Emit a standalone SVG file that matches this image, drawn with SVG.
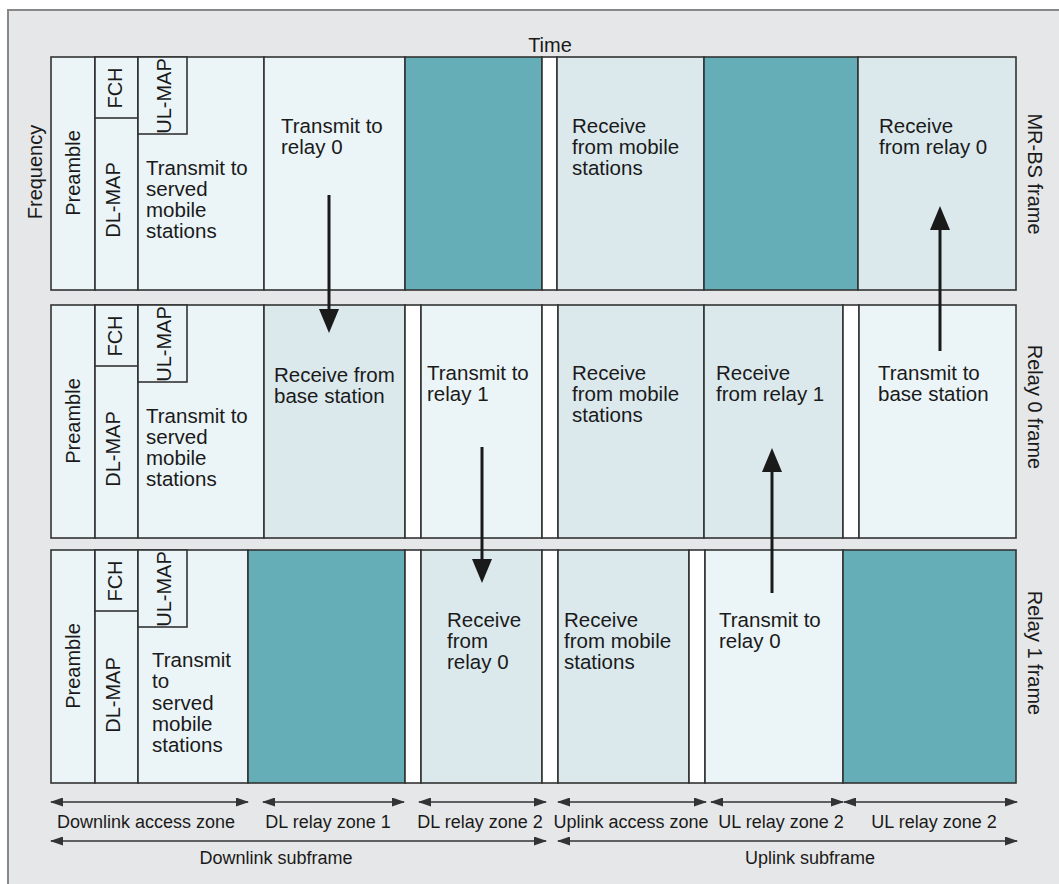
<svg xmlns="http://www.w3.org/2000/svg" width="1059" height="884" viewBox="0 0 1059 884">
<defs>
<style>
text{font-family:"Liberation Sans",Arial,sans-serif;fill:#1a1a1a}
.t{font-size:20.5px}
.r{font-size:20px;text-anchor:middle}
.z{font-size:18px;text-anchor:middle}
.c{stroke:#333;stroke-width:1.6}
.lt{fill:#ebf4f7}
.rx{fill:#dbe9ed}
.tl{fill:#65aeb7}
.wh{fill:#ffffff}
.big{stroke:#1a1a1a;stroke-width:3;fill:none}
.dim{stroke:#333;stroke-width:1.5;fill:none}
</style>
<marker id="ah" markerUnits="userSpaceOnUse" markerWidth="24" markerHeight="20" refX="2" refY="10" orient="auto"><path d="M0,0 L24,10 L0,20 z" fill="#1a1a1a"/></marker>
<marker id="sh" markerUnits="userSpaceOnUse" markerWidth="13" markerHeight="9" refX="12" refY="4.5" orient="auto-start-reverse"><path d="M0,0 L13,4.5 L0,9 z" fill="#333"/></marker>
</defs>
<rect x="0" y="0" width="1059" height="884" fill="#ffffff"/>
<rect x="8" y="10" width="1070" height="890" fill="#e6e7e8" stroke="#888" stroke-width="2"/>
<text class="r" x="550" y="52">Time</text>
<text class="r" transform="translate(42,172) rotate(-90)">Frequency</text>

<g id="row-mrbs">
<rect class="c lt" x="51" y="57" width="44" height="233"/>
<rect class="c lt" x="95" y="57" width="43" height="233"/>
<rect class="c lt" x="95" y="57" width="43" height="61"/>
<rect class="c lt" x="138" y="57" width="126" height="233"/>
<rect class="c lt" x="138" y="57" width="49" height="77"/>
<rect class="c lt" x="264" y="57" width="141" height="233"/>
<rect class="c tl" x="405" y="57" width="137" height="233"/>
<rect class="c wh" x="542" y="57" width="15" height="233"/>
<rect class="c rx" x="557" y="57" width="147" height="233"/>
<rect class="c tl" x="704" y="57" width="154" height="233"/>
<rect class="c rx" x="858" y="57" width="158" height="233"/>
<text class="r" transform="translate(80,173) rotate(-90)">Preamble</text>
<text class="r" transform="translate(122,88) rotate(-90)">FCH</text>
<text class="r" transform="translate(120,200) rotate(-90)">DL-MAP</text>
<text class="r" transform="translate(171,96) rotate(-90)">UL-MAP</text>
<text class="t" x="146" y="175">Transmit to</text>
<text class="t" x="146" y="196">served</text>
<text class="t" x="146" y="217">mobile</text>
<text class="t" x="146" y="238">stations</text>
<text class="t" x="281" y="133">Transmit to</text>
<text class="t" x="281" y="154">relay 0</text>
<text class="t" x="572" y="133">Receive</text>
<text class="t" x="572" y="154">from mobile</text>
<text class="t" x="572" y="175">stations</text>
<text class="t" x="879" y="133">Receive</text>
<text class="t" x="879" y="154">from relay 0</text>
<text class="r" transform="translate(1028,174) rotate(90)">MR-BS frame</text>
</g>

<g id="row-relay0">
<rect class="c lt" x="51" y="305" width="44" height="233"/>
<rect class="c lt" x="95" y="305" width="43" height="233"/>
<rect class="c lt" x="95" y="305" width="43" height="61"/>
<rect class="c lt" x="138" y="305" width="126" height="233"/>
<rect class="c lt" x="138" y="305" width="49" height="77"/>
<rect class="c rx" x="264" y="305" width="141" height="233"/>
<rect class="c wh" x="405" y="305" width="16" height="233"/>
<rect class="c lt" x="421" y="305" width="121" height="233"/>
<rect class="c wh" x="542" y="305" width="16" height="233"/>
<rect class="c rx" x="558" y="305" width="146" height="233"/>
<rect class="c rx" x="704" y="305" width="139" height="233"/>
<rect class="c wh" x="843" y="305" width="16" height="233"/>
<rect class="c lt" x="859" y="305" width="157" height="233"/>
<text class="r" transform="translate(80,421) rotate(-90)">Preamble</text>
<text class="r" transform="translate(122,336) rotate(-90)">FCH</text>
<text class="r" transform="translate(120,449) rotate(-90)">DL-MAP</text>
<text class="r" transform="translate(171,344) rotate(-90)">UL-MAP</text>
<text class="t" x="146" y="423">Transmit to</text>
<text class="t" x="146" y="444">served</text>
<text class="t" x="146" y="465">mobile</text>
<text class="t" x="146" y="486">stations</text>
<text class="t" x="274" y="382">Receive from</text>
<text class="t" x="274" y="403">base station</text>
<text class="t" x="427" y="380">Transmit to</text>
<text class="t" x="427" y="401">relay 1</text>
<text class="t" x="572" y="380">Receive</text>
<text class="t" x="572" y="401">from mobile</text>
<text class="t" x="572" y="422">stations</text>
<text class="t" x="716" y="380">Receive</text>
<text class="t" x="716" y="401">from relay 1</text>
<text class="t" x="878" y="380">Transmit to</text>
<text class="t" x="878" y="401">base station</text>
<text class="r" transform="translate(1028,407) rotate(90)">Relay 0 frame</text>
</g>

<g id="row-relay1">
<rect class="c lt" x="51" y="550" width="44" height="233"/>
<rect class="c lt" x="95" y="550" width="43" height="233"/>
<rect class="c lt" x="95" y="550" width="43" height="61"/>
<rect class="c lt" x="138" y="550" width="110" height="233"/>
<rect class="c lt" x="138" y="550" width="49" height="77"/>
<rect class="c tl" x="248" y="550" width="157" height="233"/>
<rect class="c wh" x="405" y="550" width="16" height="233"/>
<rect class="c rx" x="421" y="550" width="121" height="233"/>
<rect class="c wh" x="542" y="550" width="16" height="233"/>
<rect class="c rx" x="558" y="550" width="131" height="233"/>
<rect class="c wh" x="689" y="550" width="16" height="233"/>
<rect class="c lt" x="705" y="550" width="138" height="233"/>
<rect class="c tl" x="843" y="550" width="173" height="233"/>
<text class="r" transform="translate(80,666) rotate(-90)">Preamble</text>
<text class="r" transform="translate(122,581) rotate(-90)">FCH</text>
<text class="r" transform="translate(120,695) rotate(-90)">DL-MAP</text>
<text class="r" transform="translate(171,589) rotate(-90)">UL-MAP</text>
<text class="t" x="152" y="667">Transmit</text>
<text class="t" x="152" y="688">to</text>
<text class="t" x="152" y="710">served</text>
<text class="t" x="152" y="731">mobile</text>
<text class="t" x="152" y="752">stations</text>
<text class="t" x="447" y="627">Receive</text>
<text class="t" x="447" y="648">from</text>
<text class="t" x="447" y="669">relay 0</text>
<text class="t" x="564" y="627">Receive</text>
<text class="t" x="564" y="648">from mobile</text>
<text class="t" x="564" y="669">stations</text>
<text class="t" x="719" y="627">Transmit to</text>
<text class="t" x="719" y="648">relay 0</text>
<text class="r" transform="translate(1028,653) rotate(90)">Relay 1 frame</text>
</g>

<g id="connectors">
<line class="big" x1="329" y1="195" x2="329" y2="311" marker-end="url(#ah)"/>
<line class="big" x1="482" y1="447" x2="482" y2="561" marker-end="url(#ah)"/>
<line class="big" x1="772" y1="593" x2="772" y2="470" marker-end="url(#ah)"/>
<line class="big" x1="940" y1="351" x2="940" y2="228" marker-end="url(#ah)"/>
</g>

<g id="zones">
<line class="dim" x1="51" y1="802" x2="248" y2="802" marker-start="url(#sh)" marker-end="url(#sh)"/>
<line class="dim" x1="263" y1="802" x2="404" y2="802" marker-start="url(#sh)" marker-end="url(#sh)"/>
<line class="dim" x1="419" y1="802" x2="546" y2="802" marker-start="url(#sh)" marker-end="url(#sh)"/>
<line class="dim" x1="558" y1="802" x2="706" y2="802" marker-start="url(#sh)" marker-end="url(#sh)"/>
<line class="dim" x1="711" y1="802" x2="843" y2="802" marker-start="url(#sh)" marker-end="url(#sh)"/>
<line class="dim" x1="844" y1="802" x2="1017" y2="802" marker-start="url(#sh)" marker-end="url(#sh)"/>
<line class="dim" x1="51" y1="841" x2="546" y2="841" marker-start="url(#sh)" marker-end="url(#sh)"/>
<line class="dim" x1="558" y1="841" x2="1017" y2="841" marker-start="url(#sh)" marker-end="url(#sh)"/>
<text class="z" x="146" y="828">Downlink access zone</text>
<text class="z" x="328" y="828">DL relay zone 1</text>
<text class="z" x="480" y="828">DL relay zone 2</text>
<text class="z" x="631" y="828">Uplink access zone</text>
<text class="z" x="781" y="828">UL relay zone 2</text>
<text class="z" x="934" y="828">UL relay zone 2</text>
<text class="z" x="276" y="864">Downlink subframe</text>
<text class="z" x="810" y="864">Uplink subframe</text>
</g>
</svg>
